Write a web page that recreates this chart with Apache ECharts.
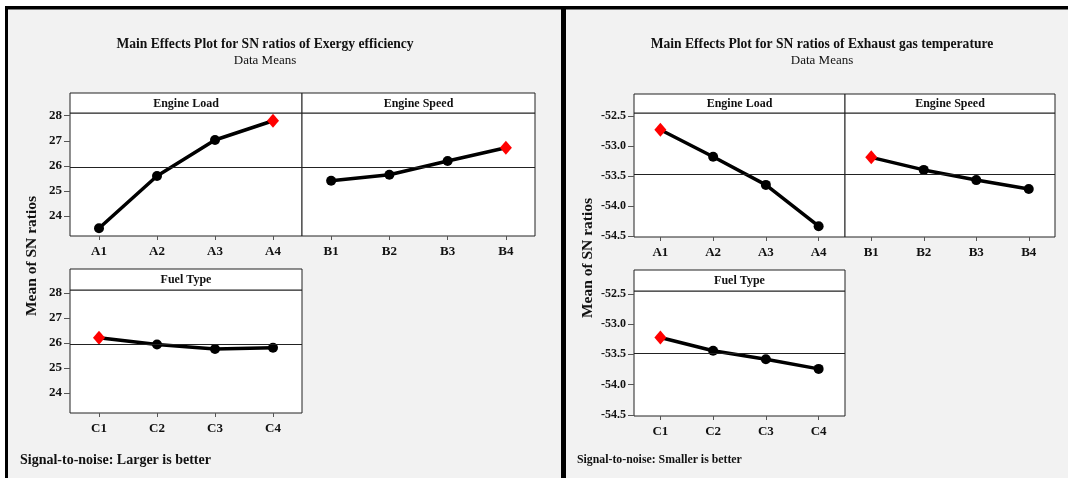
<!DOCTYPE html>
<html>
<head>
<meta charset="utf-8">
<script src="https://cdn.jsdelivr.net/npm/echarts@6/dist/echarts.min.js"></script>
<style>
  html, body { margin: 0; padding: 0; background: #ffffff; }
  #chart { width: 1068px; height: 478px; }
</style>
</head>
<body>
<div id="chart"></div>
<script>
// Factor levels
const loadLevels = ['A1', 'A2', 'A3', 'A4'];
const speedLevels = ['B1', 'B2', 'B3', 'B4'];
const fuelLevels = ['C1', 'C2', 'C3', 'C4'];

// Mean SN ratios, exergy efficiency (larger is better)
const exergyLoad = [23.50, 25.59, 27.03, 27.80];
const exergySpeed = [25.40, 25.64, 26.19, 26.72];
const exergyFuel = [26.20, 25.93, 25.75, 25.80];

// Mean SN ratios, exhaust gas temperature (smaller is better)
const exhaustLoad = [-52.73, -53.18, -53.65, -54.34];
const exhaustSpeed = [-53.19, -53.40, -53.57, -53.72];
const exhaustFuel = [-53.22, -53.44, -53.58, -53.74];

// Value-axis tick labels
const exergyTicks = [24, 25, 26, 27, 28];
const exhaustTicks = [-52.5, -53.0, -53.5, -54.0, -54.5];

const SERIF = '"Liberation Serif", "Times New Roman", serif';

function average(arr) { return arr.reduce((s, v) => s + v, 0) / arr.length; }

const exergyMean = average(exergyLoad.concat(exergySpeed, exergyFuel));
const exhaustMean = average(exhaustLoad.concat(exhaustSpeed, exhaustFuel));

const grids = [];
const xAxes = [];
const yAxes = [];
const series = [];
const graphics = [];

// Page backdrop: two grey boards with heavy black rules
graphics.push(
  { type: 'rect', z: -10, shape: { x: 5, y: 6, width: 556, height: 472 }, style: { fill: '#f2f2f2' } },
  { type: 'rect', z: -10, shape: { x: 566, y: 6, width: 502, height: 472 }, style: { fill: '#f2f2f2' } },
  { type: 'rect', z: -9, shape: { x: 5, y: 6, width: 1063, height: 3.5 }, style: { fill: '#000' } },
  { type: 'rect', z: -9, shape: { x: 5, y: 6, width: 3, height: 472 }, style: { fill: '#000' } },
  { type: 'rect', z: -9, shape: { x: 561, y: 6, width: 5, height: 472 }, style: { fill: '#000' } }
);

function text(x, y, str, size, weight, extra) {
  const el = Object.assign({
    type: 'text', x: x, y: y, z: 5,
    style: {
      text: str, fill: '#111', font: weight + ' ' + size + 'px ' + SERIF,
      textAlign: 'center', textVerticalAlign: 'middle'
    }
  }, extra || {});
  graphics.push(el);
  return el;
}

// One facet: strip header box + plot grid + line series
function facet(opt) {
  const gi = grids.length;
  grids.push({
    show: true, left: opt.left, top: opt.top, width: opt.width, height: opt.height,
    backgroundColor: '#ffffff', borderColor: '#222', borderWidth: 1, containLabel: false
  });
  graphics.push({
    type: 'rect', z: 1,
    shape: { x: opt.left, y: opt.stripTop, width: opt.width, height: opt.top - opt.stripTop },
    style: { fill: '#ffffff', stroke: '#222', lineWidth: 1 }
  });
  text(opt.left + opt.width / 2, (opt.stripTop + opt.top) / 2 + 0.5, opt.name, 12.5, 'bold', { scaleX: 0.96 });

  xAxes.push({
    type: 'category', gridIndex: gi, data: opt.levels, boundaryGap: true,
    axisLine: { show: false },
    axisTick: { show: true, alignWithLabel: true, length: 4, inside: false, lineStyle: { color: '#555' } },
    axisLabel: { margin: 9, color: '#111', fontFamily: SERIF, fontWeight: 'bold', fontSize: 13 },
    splitLine: { show: false }
  });
  yAxes.push({
    type: 'value', gridIndex: gi, min: opt.min, max: opt.max, scale: true,
    axisLine: { show: false },
    axisTick: {
      show: opt.showY, length: 6, customValues: opt.ticks, lineStyle: { color: '#555' }
    },
    axisLabel: {
      show: opt.showY, customValues: opt.ticks, margin: 8, color: '#111',
      fontFamily: SERIF, fontWeight: 'bold', fontSize: opt.ySize,
      formatter: opt.fmt
    },
    splitLine: { show: false }
  });

  let best = 0;
  opt.values.forEach((v, i) => { if (v > opt.values[best]) best = i; });
  series.push({
    type: 'line', xAxisIndex: gi, yAxisIndex: gi,
    data: opt.values.map((v, i) => i === best
      ? { value: v, symbol: 'diamond', symbolSize: [12, 14], itemStyle: { color: '#ff0000' } }
      : v),
    symbol: 'circle', symbolSize: 10, showSymbol: true,
    itemStyle: { color: '#000' },
    lineStyle: { color: '#000', width: 3.5 },
    silent: true, animation: false,
    markLine: {
      silent: true, symbol: 'none', animation: false,
      label: { show: false },
      lineStyle: { color: '#222', width: 1, type: 'solid' },
      data: [{ yAxis: opt.mean }]
    },
    z: 3
  });
}

// ---- Exergy efficiency ----
const exFmt = v => String(v);
const exRange = { min: 23.19, max: 28.11 };
facet(Object.assign({ name: 'Engine Load', levels: loadLevels, values: exergyLoad, left: 70, width: 232, stripTop: 93, top: 113, height: 123, showY: true, ticks: exergyTicks, fmt: exFmt, ySize: 13, mean: exergyMean }, exRange));
facet(Object.assign({ name: 'Engine Speed', levels: speedLevels, values: exergySpeed, left: 302, width: 233, stripTop: 93, top: 113, height: 123, showY: false, ticks: exergyTicks, fmt: exFmt, ySize: 13, mean: exergyMean }, exRange));
facet(Object.assign({ name: 'Fuel Type', levels: fuelLevels, values: exergyFuel, left: 70, width: 232, stripTop: 269, top: 290, height: 123, showY: true, ticks: exergyTicks, fmt: exFmt, ySize: 13, mean: exergyMean }, exRange));

text(265, 44, 'Main Effects Plot for SN ratios of Exergy efficiency', 14, 'bold', { scaleX: 0.97 });
text(265, 61, 'Data Means', 13, 'normal');
text(32, 256, 'Mean of SN ratios', 15.5, 'bold', { rotation: Math.PI / 2 });
text(20, 460, 'Signal-to-noise: Larger is better', 14, 'bold').style.textAlign = 'left';

// ---- Exhaust gas temperature ----
const ehFmt = v => Number(v).toFixed(1);
const ehRange = { min: -54.52, max: -52.45 };
facet(Object.assign({ name: 'Engine Load', levels: loadLevels, values: exhaustLoad, left: 634, width: 211, stripTop: 94, top: 113, height: 124, showY: true, ticks: exhaustTicks, fmt: ehFmt, ySize: 12, mean: exhaustMean }, ehRange));
facet(Object.assign({ name: 'Engine Speed', levels: speedLevels, values: exhaustSpeed, left: 845, width: 210, stripTop: 94, top: 113, height: 124, showY: false, ticks: exhaustTicks, fmt: ehFmt, ySize: 12, mean: exhaustMean }, ehRange));
facet(Object.assign({ name: 'Fuel Type', levels: fuelLevels, values: exhaustFuel, left: 634, width: 211, stripTop: 270, top: 291, height: 125, showY: true, ticks: exhaustTicks, fmt: ehFmt, ySize: 12, mean: exhaustMean }, ehRange));

text(822, 44, 'Main Effects Plot for SN ratios of Exhaust gas temperature', 14, 'bold', { scaleX: 0.97 });
text(822, 61, 'Data Means', 13, 'normal');
text(588, 258, 'Mean of SN ratios', 15.5, 'bold', { rotation: Math.PI / 2 });
text(577, 460, 'Signal-to-noise: Smaller is better', 11.8, 'bold').style.textAlign = 'left';

const chart = echarts.init(document.getElementById('chart'), null, { renderer: 'canvas' });
chart.setOption({
  backgroundColor: '#ffffff',
  animation: false,
  grid: grids,
  xAxis: xAxes,
  yAxis: yAxes,
  series: series,
  graphic: { elements: graphics }
});
</script>
</body>
</html>
